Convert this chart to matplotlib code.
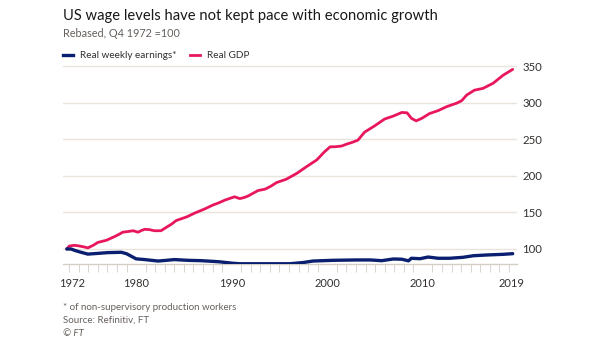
import matplotlib
matplotlib.use("Agg")
import matplotlib.pyplot as plt
from matplotlib.lines import Line2D

# ---- data ----
gdp_years = [1972.75, 1973.0, 1973.5, 1973.9, 1974.5, 1974.95, 1975.5, 1976.0, 1976.9, 1977.75,
             1978.2, 1978.6, 1979.2, 1979.7, 1980.2, 1980.5, 1980.9, 1981.4, 1981.9, 1982.6,
             1983.2, 1983.7, 1984.2, 1985.3, 1986.1, 1986.65, 1987.2, 1988.0, 1988.7, 1989.3,
             1990.3, 1990.85, 1991.3, 1991.7, 1992.75, 1993.5, 1994.1, 1994.7, 1995.7, 1996.8,
             1997.8, 1998.9, 1999.7, 2000.3, 2000.8, 2001.5, 2002.0, 2002.6, 2003.2, 2003.9,
             2005.0, 2006.0, 2006.9, 2007.8, 2008.35, 2008.8, 2009.3, 2009.9, 2010.7, 2011.6,
             2012.5, 2013.5, 2014.05, 2014.6, 2015.4, 2016.3, 2017.35, 2018.4, 2019.4]
gdp_values = [100, 104, 105, 104.5, 103, 101.5, 105, 109, 112, 117,
              120, 123, 124, 125, 123, 125, 127, 126.5, 125, 125,
              130, 134, 139, 144, 149, 152, 155, 160, 163.5, 167,
              171.5, 169, 170.5, 172.5, 180, 182, 186, 191, 195.5, 203.5,
              212.5, 222, 233, 240, 240, 241, 243.5, 246, 249, 260,
              269, 278, 282, 287, 286.5, 279, 275.5, 279, 285.5, 289.5,
              295, 299.5, 303, 311, 317.5, 320, 327, 338, 346]

wage_years = [1972.75, 1973.2, 1973.6, 1974.1, 1974.95, 1976.0, 1977.0, 1978.45, 1979.0, 1979.5,
              1980.0, 1980.9, 1982.3, 1983.2, 1984.0, 1985.4, 1986.8, 1988.1, 1988.7, 1990.1,
              1990.85, 1993.6, 1996.1, 1997.5, 1998.5, 2000.6, 2003.05, 2004.5, 2005.7, 2006.9,
              2007.8, 2008.5, 2008.8, 2009.7, 2010.55, 2011.6, 2012.8, 2014.2, 2015.3, 2016.7,
              2018.4, 2019.4]
wage_values = [100, 100, 98, 96, 93, 94, 95, 95.5, 93.5, 90,
               86.5, 85.5, 83.5, 84.5, 85.5, 84.5, 84, 83, 82.5, 80.5,
               79.8, 79.8, 79.8, 81.5, 83.5, 84.5, 85, 85, 84, 86.3,
               86, 83.8, 87.3, 86.7, 89, 87.3, 87.3, 88.6, 90.8, 91.8,
               92.7, 93.6]

y_ticks = [100, 150, 200, 250, 300, 350]
x_label_pos = [1973.3, 1980, 1990, 2000, 2010, 2019.3]
x_labels = ["1972", "1980", "1990", "2000", "2010", "2019"]
minor_years = list(range(1973, 2020))

title = "US wage levels have not kept pace with economic growth"
subtitle = "Rebased, Q4 1972 =100"
notes = ["* of non-supervisory production workers", "Source: Refinitiv, FT"]

RED = "#e8175d"
BLUE = "#0b1f70"
GRID = "#e9e4dc"
TXT = "#33302e"
GREY = "#66605c"

plt.rcParams['font.family'] = ['Lato', 'DejaVu Sans']

W, H = 605, 341
fig = plt.figure(figsize=(W / 100, H / 100), dpi=100)
fig.patch.set_facecolor("white")

left, right = 63 / W, 517 / W
bottom = 1 - 264 / H
top = 1 - 62.8 / H
ax = fig.add_axes([left, bottom, right - left, top - bottom])

ax.plot(gdp_years, gdp_values, color=RED, lw=2.0, solid_capstyle="round", zorder=3)
ax.plot(wage_years, wage_values, color=BLUE, lw=2.4, solid_capstyle="round", zorder=3)

ax.set_xlim(1972.35, 2019.85)
ax.set_ylim(79.45, 355)

ax.yaxis.tick_right()
ax.set_yticks(y_ticks)
ax.set_yticklabels([str(v) for v in y_ticks])
ax.tick_params(axis="y", length=0, pad=4, labelsize=8.2, labelcolor=TXT)
ax.grid(axis="y", color=GRID, lw=1.0, zorder=0)

ax.set_xticks(x_label_pos)
ax.set_xticklabels(x_labels)
ax.set_xticks(minor_years, minor=True)
ax.tick_params(axis="x", which="major", length=0, pad=10,
               labelsize=8.0, labelcolor=TXT)
ax.tick_params(axis="x", which="minor", length=6, color="#d3cdc6")

for s in ["top", "right", "left"]:
    ax.spines[s].set_visible(False)
ax.spines["bottom"].set_color("#d3cdc6")
ax.spines["bottom"].set_linewidth(1.0)

# titles
fig.text(63 / W, 1 - 20 / H, title, fontsize=10.6, color="#1a1817", ha="left", va="baseline")
fig.text(63 / W, 1 - 37 / H, subtitle, fontsize=7.8, color=GREY, ha="left", va="baseline")

# legend
ly = 1 - 55 / H
fig.add_artist(Line2D([63 / W, 73 / W], [ly, ly], color=BLUE, lw=2.4))
fig.text(80 / W, ly, "Real weekly earnings*", fontsize=7.2, color=TXT, ha="left", va="center")
fig.add_artist(Line2D([190 / W, 200 / W], [ly, ly], color=RED, lw=2.0))
fig.text(207 / W, ly, "Real GDP", fontsize=7.2, color=TXT, ha="left", va="center")

# footer
fig.text(63 / W, 1 - 310 / H, notes[0], fontsize=7.0, color=GREY, ha="left", va="baseline")
fig.text(63 / W, 1 - 323 / H, notes[1], fontsize=7.0, color=GREY, ha="left", va="baseline")
fig.text(63 / W, 1 - 336 / H, "© FT", fontsize=7.0, color=GREY, ha="left", va="baseline",
         style="italic")

fig.savefig("out.png", dpi=100, facecolor="white")
